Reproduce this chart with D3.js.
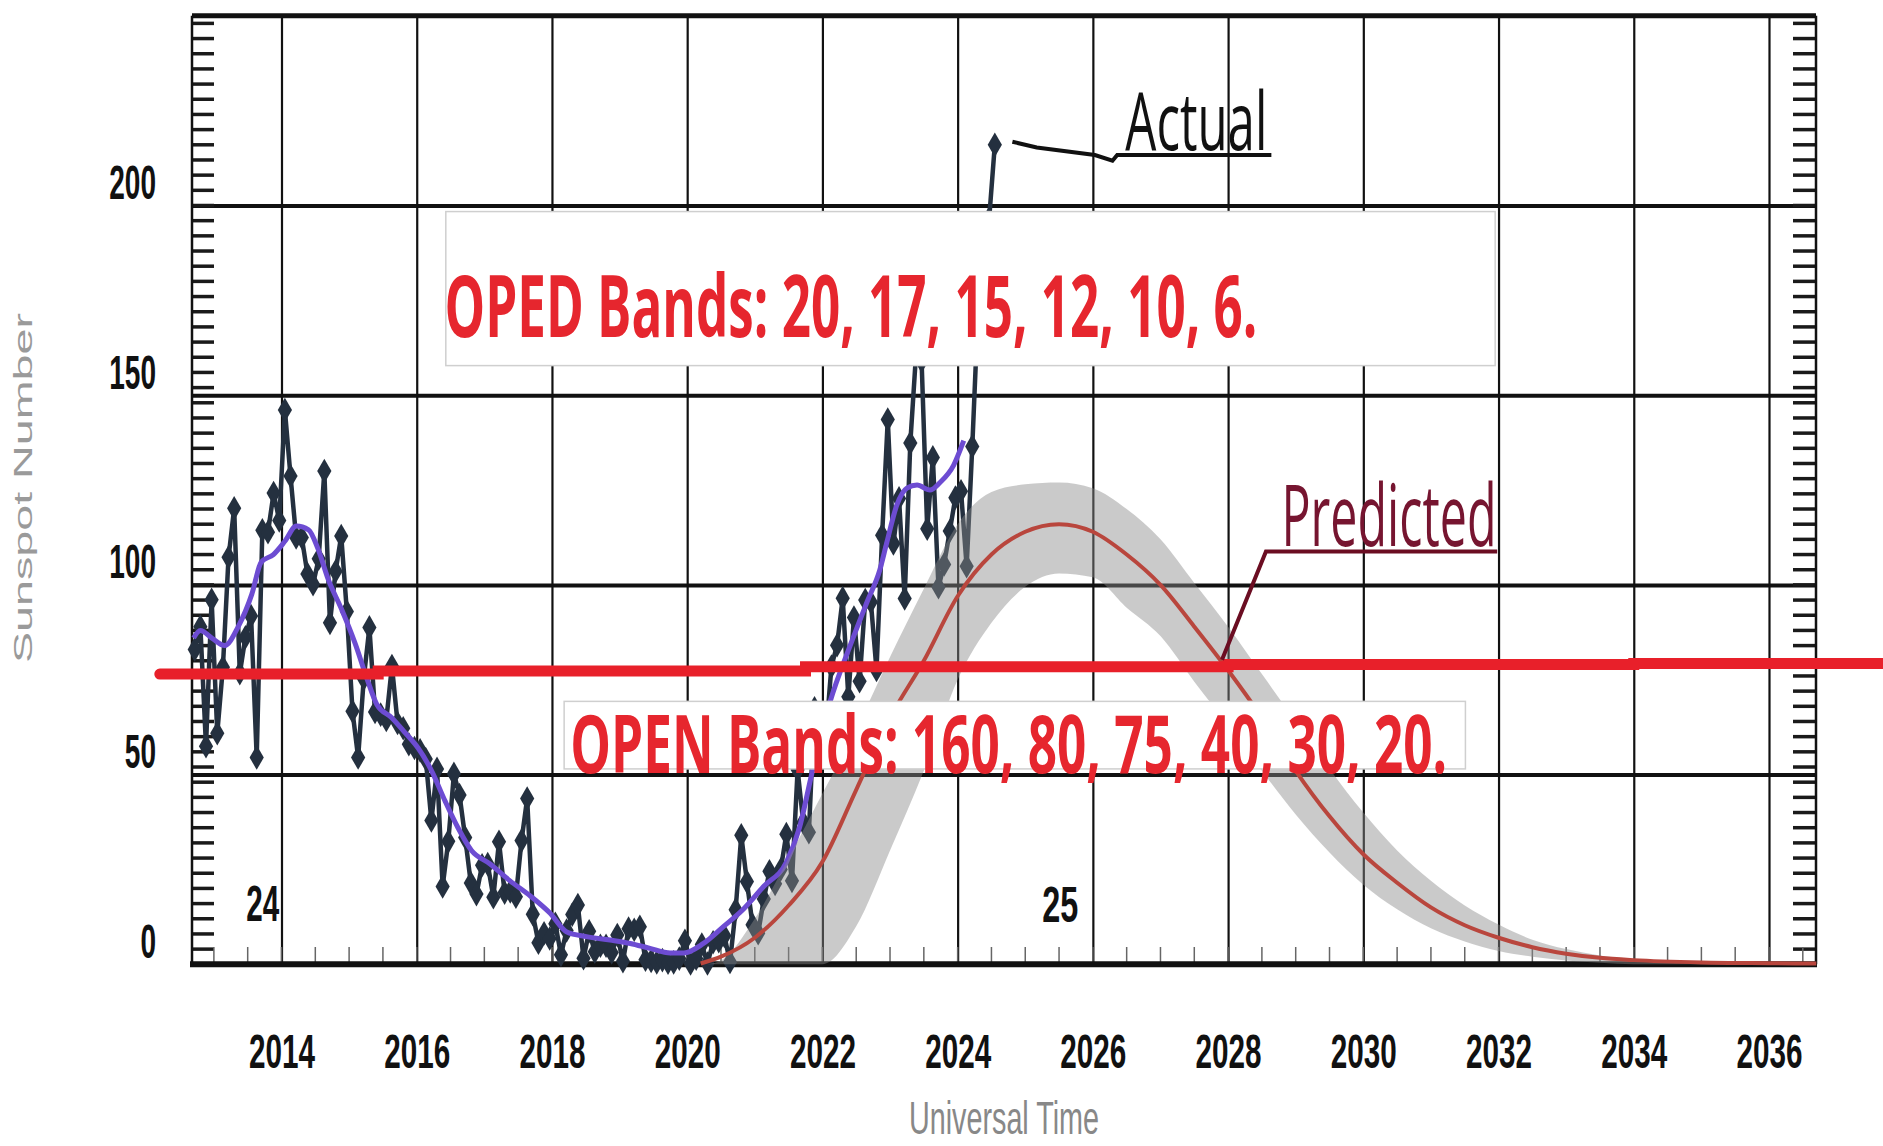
<!DOCTYPE html>
<html>
<head>
<meta charset="utf-8">
<title>Sunspot Number - Actual vs Predicted</title>
<script src="https://d3js.org/d3.v7.min.js"></script>
<style>
  body { margin: 0; background: #fff; }
</style>
</head>
<body>
<svg id="chart" width="1883" height="1146"></svg>
<script>
// monthly sunspot number, Oct 2012 .. Aug 2024 (one value per month)
var actualStart = 2012 + 8.6 / 12;
var actualValues = [
  83, 89, 57.5,
  96.1, 60.9, 78.3, 107.3, 120.2, 76.7, 86.2, 91.8, 54.5, 114.4, 113.9, 124.2,
  117.0, 146.1, 128.7, 112.5, 112.5, 102.9, 100.2, 106.9, 130.0, 90.0, 103.6, 112.9,
  93.0, 66.7, 54.5, 75.3, 88.8, 66.5, 65.8, 64.4, 78.6, 63.6, 62.2, 58.0,
  57.0, 56.4, 54.1, 37.9, 51.5, 20.5, 32.4, 50.2, 44.6, 33.4, 21.4, 18.5,
  26.1, 26.4, 17.7, 32.3, 18.9, 19.2, 17.8, 32.6, 43.7, 13.2, 5.7, 8.2,
  6.8, 10.7, 2.5, 8.9, 13.1, 15.6, 1.6, 8.7, 3.3, 4.9, 4.9, 3.1,
  7.7, 0.8, 9.4, 9.1, 9.9, 1.2, 0.9, 0.5, 1.1, 0.4, 0.5, 1.5,
  6.2, 0.2, 1.5, 5.2, 0.2, 5.8, 6.1, 7.5, 0.6, 14.4, 34.0, 21.8,
  10.4, 8.2, 17.2, 24.5, 21.2, 25.0, 34.3, 22.0, 51.3, 37.4, 34.8, 67.5,
  55.3, 59.9, 78.5, 84.1, 96.5, 70.5, 91.4, 74.6, 96.0, 95.5, 77.6, 113.1,
  143.6, 110.9, 122.8, 96.4, 137.4, 160.5, 159.1, 114.8, 133.6, 99.4, 105.4, 114.2,
  123.0, 124.7, 104.9, 136.5, 171.7, 161.1, 196.6, 216.0
];

// smoothed curve (purple)
var smoothYears = [2012.70, 2012.80, 2012.97, 2013.16, 2013.36, 2013.56, 2013.70, 2013.88, 2014.05, 2014.22,
  2014.40, 2014.54, 2014.69, 2014.89, 2015.09, 2015.26, 2015.41, 2015.63, 2015.83, 2016.02,
  2016.22, 2016.42, 2016.61, 2016.81, 2017.08, 2017.38, 2017.68, 2017.97, 2018.22, 2018.51,
  2018.86, 2019.16, 2019.45, 2019.75, 2019.95, 2020.24, 2020.54, 2020.83, 2021.13, 2021.47,
  2021.66, 2021.84, 2022.00, 2022.11, 2022.41, 2022.66, 2022.85, 2022.95, 2023.10, 2023.25,
  2023.40, 2023.59, 2023.74, 2023.94, 2024.09];
var smoothValues = [86, 88, 86, 84, 89, 97.5, 106, 108, 111.5, 115.5,
  114.5, 109.5, 101.5, 93.5, 84.5, 75.5, 68.5, 65, 61, 57,
  51, 43, 36, 30, 26.5, 22, 18, 13.5, 8.5, 7.3,
  6.4, 5.5, 4.2, 3, 3, 5.5, 10, 14.5, 20.5, 27,
  36, 50, 62, 69, 84, 95.5, 104, 111, 121, 125.5,
  126.3, 125, 127, 131.5, 138];

// predicted cycle 25
var predYears = [2020.2, 2020.5, 2021.0, 2021.5, 2022.0, 2022.5, 2023.0, 2023.5, 2024.0, 2024.5,
  2025.0, 2025.5, 2026.0, 2026.5, 2027.0, 2027.5, 2028.0, 2028.5, 2029.0, 2029.5,
  2030.0, 2030.5, 2031.0, 2031.5, 2032.0, 2032.5, 2033.0, 2033.5, 2034.0, 2035.0,
  2036.0, 2036.7];
var predValues = [0.2, 2, 7, 15.5, 27, 46, 65, 80, 97, 108,
  114, 116, 114, 108, 100, 89, 77.5, 65, 51, 39,
  29, 21.5, 15, 10.3, 7, 4.5, 2.8, 1.7, 1.1, 0.5,
  0.3, 0.2];

// grey uncertainty band
var bandYears = [2020.3, 2020.5, 2021.0, 2021.5, 2022.0, 2022.5, 2023.0, 2023.5, 2024.0, 2024.5,
  2025.0, 2025.5, 2026.0, 2026.5, 2027.0, 2027.5, 2028.0, 2028.5, 2029.0, 2029.5,
  2030.0, 2030.5, 2031.0, 2031.5, 2032.0, 2032.5, 2033.0, 2033.5, 2034.0, 2034.5,
  2035.0, 2035.5];
var bandUpper = [0, 1, 12, 28, 45, 62, 81, 99, 116, 124.5,
  126.5, 127, 125.5, 120, 112, 100.5, 89, 76.5, 64, 51.5,
  40, 30, 22, 15.5, 10.5, 6.5, 4, 2.3, 1.3, 0.7,
  0.3, 0];
var bandLower = [0, 0, 0, 0, 0, 10, 30, 51, 75, 90,
  99.5, 103, 102, 94, 86.5, 74.5, 63, 51, 39.5, 29.5,
  21, 14.5, 9.5, 6, 3.5, 2, 1, 0.4, 0, 0,
  0, 0];

// hand drawn red level line (slightly stepped)
var levelYears = [2012.2, 2015.43, 2021.75, 2028.0, 2034.0, 2037.7];
var levelValues = [76.5, 77.3, 78.4, 79.0, 79.3, 79.3];

var yearTicks = [2014, 2016, 2018, 2020, 2022, 2024, 2026, 2028, 2030, 2032, 2034, 2036];
var valueTicks = [0, 50, 100, 150, 200];

var opedText = "OPED Bands: 20, 17, 15, 12, 10, 6.";
var openText = "OPEN Bands: 160, 80, 75, 40, 30, 20.";

var svg = d3.select("#chart");

var plotLeft = 192, plotRight = 1816, plotTop = 16, plotBottom = 964;
var x = d3.scaleLinear().domain([2014, 2036]).range([281.5, 1769]);
var y = d3.scaleLinear().domain([0, 250]).range([964.3, 15.8]);

// gridlines
var gridY = d3.axisLeft(y).tickValues([50, 100, 150, 200]).tickSize(-(plotRight - plotLeft)).tickFormat("");
svg.append("g").attr("transform", "translate(" + plotLeft + ",0)").call(gridY)
  .call(function(g) { g.select(".domain").remove(); })
  .selectAll("line").attr("stroke", "#111").attr("stroke-width", 4);

var gridX = d3.axisBottom(x).tickValues(yearTicks).tickSize(-(plotBottom - plotTop)).tickFormat("");
svg.append("g").attr("transform", "translate(0," + plotBottom + ")").call(gridX)
  .call(function(g) { g.select(".domain").remove(); })
  .selectAll("line").attr("stroke", "#111").attr("stroke-width", 2.2);

// minor ticks
var minorY = d3.range(4, 250, 4);
svg.append("g").selectAll("line").data(minorY).join("line")
  .attr("x1", plotLeft).attr("x2", plotLeft + 22)
  .attr("y1", function(d) { return y(d); }).attr("y2", function(d) { return y(d); })
  .attr("stroke", "#1a1a1a").attr("stroke-width", 3.5);
svg.append("g").selectAll("line").data(minorY).join("line")
  .attr("x1", plotRight - 23).attr("x2", plotRight)
  .attr("y1", function(d) { return y(d); }).attr("y2", function(d) { return y(d); })
  .attr("stroke", "#1a1a1a").attr("stroke-width", 3.5);
var minorX = d3.range(2013, 2036.6, 0.5);
svg.append("g").selectAll("line").data(minorX).join("line")
  .attr("x1", function(d) { return x(d); }).attr("x2", function(d) { return x(d); })
  .attr("y1", plotBottom - 17).attr("y2", plotBottom)
  .attr("stroke", "#666").attr("stroke-width", 1.5);

// frame
svg.append("line").attr("x1", plotLeft).attr("x2", plotRight).attr("y1", y(250)).attr("y2", y(250))
  .attr("stroke", "#111").attr("stroke-width", 5);
svg.append("line").attr("x1", plotLeft - 2).attr("x2", plotRight + 1).attr("y1", y(0)).attr("y2", y(0))
  .attr("stroke", "#111").attr("stroke-width", 6);
svg.append("line").attr("x1", plotLeft).attr("x2", plotLeft).attr("y1", y(250)).attr("y2", y(0))
  .attr("stroke", "#111").attr("stroke-width", 2.5);
svg.append("line").attr("x1", plotRight).attr("x2", plotRight).attr("y1", y(250)).attr("y2", y(0))
  .attr("stroke", "#111").attr("stroke-width", 2.5);

// tick labels
var yAxis = d3.axisLeft(y).tickValues(valueTicks).tickSize(0).tickPadding(36);
svg.append("g").attr("transform", "translate(" + plotLeft + ",0)").call(yAxis)
  .call(function(g) { g.select(".domain").remove(); })
  .selectAll("text")
  .attr("dy", null).attr("y", -7)
  .attr("font-family", "Liberation Sans, Arial, sans-serif").attr("font-weight", "bold")
  .attr("font-size", 48).attr("fill", "#111")
  .attr("textLength", function(d) { return String(d).length * 15.6; })
  .attr("lengthAdjust", "spacingAndGlyphs");

var xAxis = d3.axisBottom(x).tickValues(yearTicks).tickSize(0).tickFormat(d3.format("d"));
svg.append("g").attr("transform", "translate(0," + plotBottom + ")").call(xAxis)
  .call(function(g) { g.select(".domain").remove(); })
  .selectAll("text")
  .attr("dy", null).attr("y", 104)
  .attr("font-family", "Liberation Sans, Arial, sans-serif").attr("font-weight", "bold")
  .attr("font-size", 48).attr("fill", "#111")
  .attr("textLength", 66).attr("lengthAdjust", "spacingAndGlyphs");

// axis titles
svg.append("text").attr("x", 1004).attr("y", 1134).attr("text-anchor", "middle")
  .attr("font-family", "Liberation Sans, Arial, sans-serif").attr("font-size", 46)
  .attr("fill", "#888").attr("textLength", 190).attr("lengthAdjust", "spacingAndGlyphs")
  .text("Universal Time");
svg.append("text").attr("transform", "translate(32,488) rotate(-90)").attr("text-anchor", "middle")
  .attr("font-family", "Liberation Sans, Arial, sans-serif").attr("font-size", 26)
  .attr("fill", "#9a9a9a").attr("textLength", 350).attr("lengthAdjust", "spacingAndGlyphs")
  .text("Sunspot Number");

// actual monthly data
var actual = actualValues.map(function(v, i) { return { t: actualStart + i / 12, v: v }; });
var lineActual = d3.line().x(function(d) { return x(d.t); }).y(function(d) { return y(d.v); });
svg.append("path").attr("d", lineActual(actual))
  .attr("fill", "none").attr("stroke", "#24303f").attr("stroke-width", 4.5)
  .attr("stroke-linejoin", "round");
svg.append("g").selectAll("path").data(actual).join("path")
  .attr("transform", function(d) { return "translate(" + x(d.t) + "," + y(d.v) + ")"; })
  .attr("d", d3.symbol().type(d3.symbolDiamond).size(175))
  .attr("fill", "#24303f");

// smoothed
var smooth = smoothYears.map(function(t, i) { return { t: t, v: smoothValues[i] }; });
svg.append("path")
  .attr("d", d3.line().x(function(d) { return x(d.t); }).y(function(d) { return y(d.v); })
    .curve(d3.curveMonotoneX)(smooth))
  .attr("fill", "none").attr("stroke", "#6d4cd2").attr("stroke-width", 5);

// band
var band = bandYears.map(function(t, i) { return { t: t, hi: bandUpper[i], lo: bandLower[i] }; });
svg.append("path")
  .attr("d", d3.area().x(function(d) { return x(d.t); })
    .y0(function(d) { return y(d.lo); }).y1(function(d) { return y(d.hi); })
    .curve(d3.curveMonotoneX)(band))
  .attr("fill", "#8a8a8a").attr("fill-opacity", 0.45);

// predicted
var pred = predYears.map(function(t, i) { return { t: t, v: predValues[i] }; });
svg.append("path")
  .attr("d", d3.line().x(function(d) { return x(d.t); }).y(function(d) { return y(d.v); })
    .curve(d3.curveMonotoneX)(pred))
  .attr("fill", "none").attr("stroke", "#b9463d").attr("stroke-width", 4);

// red level line
var level = levelYears.map(function(t, i) { return { t: t, v: levelValues[i] }; });
svg.append("path")
  .attr("d", d3.line().x(function(d) { return x(d.t); }).y(function(d) { return y(d.v); })
    .curve(d3.curveStepAfter)(level))
  .attr("fill", "none").attr("stroke", "#e8202a").attr("stroke-width", 11)
  .attr("stroke-linecap", "round");

// OPED box
svg.append("rect").attr("x", x(2016.43)).attr("y", y(198.4))
  .attr("width", x(2031.95) - x(2016.43)).attr("height", y(157.8) - y(198.4))
  .attr("fill", "#fff").attr("stroke", "#cfcfcf").attr("stroke-width", 1.5);
svg.append("text").attr("x", x(2016.41)).attr("y", y(165.4))
  .attr("font-family", "Open Sans, Liberation Sans, sans-serif").attr("font-weight", "bold")
  .attr("font-size", 86).attr("fill", "#e6262e")
  .attr("textLength", 813).attr("lengthAdjust", "spacingAndGlyphs")
  .text(opedText);

// OPEN box
svg.append("rect").attr("x", x(2018.18)).attr("y", y(69.3))
  .attr("width", x(2031.51) - x(2018.18)).attr("height", y(51.5) - y(69.3))
  .attr("fill", "#fff").attr("stroke", "#cfcfcf").attr("stroke-width", 1.5);
svg.append("text").attr("x", x(2018.27)).attr("y", y(50.4))
  .attr("font-family", "Open Sans, Liberation Sans, sans-serif").attr("font-weight", "bold")
  .attr("font-size", 80).attr("fill", "#e6262e")
  .attr("textLength", 877).attr("lengthAdjust", "spacingAndGlyphs")
  .text(openText);

// Actual label
var lineXY = d3.line().x(function(d) { return x(d[0]); }).y(function(d) { return y(d[1]); });
svg.append("path")
  .attr("d", lineXY([[2024.81, 216.8], [2025.17, 215.3], [2026.03, 213.3], [2026.29, 211.8], [2026.36, 213.3], [2028.64, 213.3]]))
  .attr("fill", "none").attr("stroke", "#111").attr("stroke-width", 4);
svg.append("text").attr("x", x(2026.48)).attr("y", y(214.6))
  .attr("font-family", "Open Sans, Liberation Sans, sans-serif")
  .attr("font-size", 80).attr("fill", "#111")
  .attr("textLength", 142).attr("lengthAdjust", "spacingAndGlyphs")
  .text("Actual");

// Predicted label
svg.append("path")
  .attr("d", lineXY([[2027.91, 80.3], [2028.56, 108.8], [2031.98, 108.8]]))
  .attr("fill", "none").attr("stroke", "#6b0d22").attr("stroke-width", 4);
svg.append("text").attr("x", x(2028.79)).attr("y", y(110.3))
  .attr("font-family", "Open Sans, Liberation Sans, sans-serif")
  .attr("font-size", 86).attr("fill", "#761530")
  .attr("textLength", 215).attr("lengthAdjust", "spacingAndGlyphs")
  .text("Predicted");

// cycle numbers
svg.append("text").attr("x", x(2013.48)).attr("y", y(11.3))
  .attr("font-family", "Liberation Sans, Arial, sans-serif").attr("font-weight", "bold")
  .attr("font-size", 50).attr("fill", "#111")
  .attr("textLength", 33).attr("lengthAdjust", "spacingAndGlyphs").text("24");
svg.append("text").attr("x", x(2025.25)).attr("y", y(11.25))
  .attr("font-family", "Liberation Sans, Arial, sans-serif").attr("font-weight", "bold")
  .attr("font-size", 50).attr("fill", "#111")
  .attr("textLength", 36).attr("lengthAdjust", "spacingAndGlyphs").text("25");
</script>
</body>
</html>
